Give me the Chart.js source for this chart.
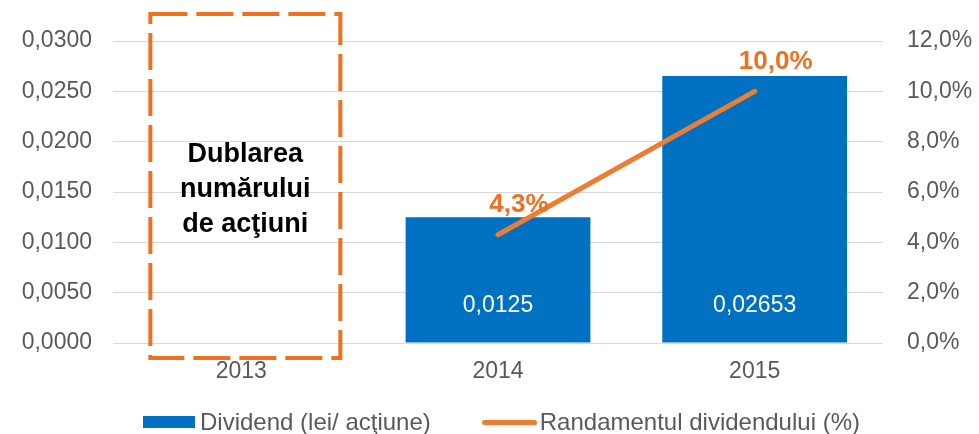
<!DOCTYPE html>
<html lang="ro">
<head>
<meta charset="UTF-8">
<title>Dividend</title>
<script src="https://cdn.jsdelivr.net/npm/chart.js"></script>
<style>
  body { margin: 0; background: #fff; font-family: "Liberation Sans", Arial, sans-serif; }
  .wrap { position: relative; width: 979px; height: 434px; }
  .legend { position: absolute; left: 143px; top: 407px; height: 30px; display: flex; align-items: center; font-size: 24px; color: #595959; }
  .legend .box { width: 52px; height: 12px; background: #0070C0; margin-right: 5px; }
  .legend .line { width: 55px; height: 5px; border-radius: 3px; background: #ED7D31; margin-left: 51px; margin-right: 3px; }
</style>
</head>
<body>
<div class="wrap">
  <canvas id="chart"></canvas>
  <div class="legend">
    <span class="box"></span><span>Dividend (lei/ acţiune)</span>
    <span class="line"></span><span>Randamentul dividendului (%)</span>
  </div>
</div>
<script>
const years = ['2013', '2014', '2015'];
const dividend = [null, 0.0125, 0.02653];   // lei / actiune
const yieldPct = [null, 4.3, 10.0];         // %
const noteLines = ['Dublarea', 'numărului', 'de acţiuni'];

const FONT = '"Liberation Sans", Arial, sans-serif';
const orange = '#ED7D31';
const comma = s => String(s).replace('.', ',');

// value labels + the dashed box over 2013
const overlay = {
  id: 'overlay',
  afterDatasetsDraw(chart) {
    const ctx = chart.ctx;
    const area = chart.chartArea;
    ctx.save();

    // bar labels, white, near the base
    chart.getDatasetMeta(0).data.forEach((bar, i) => {
      if (dividend[i] == null) return;
      ctx.font = '23px ' + FONT;
      ctx.fillStyle = '#fff';
      ctx.textAlign = 'center';
      ctx.textBaseline = 'middle';
      ctx.fillText(comma(dividend[i]), bar.x, area.bottom - 37);
    });

    // line labels, bold orange, above-right of the point
    chart.getDatasetMeta(1).data.forEach((pt, i) => {
      if (yieldPct[i] == null) return;
      ctx.font = 'bold 26px ' + FONT;
      ctx.fillStyle = '#EC7222';
      ctx.textAlign = 'center';
      ctx.textBaseline = 'middle';
      ctx.fillText(comma(yieldPct[i].toFixed(1)) + '%', pt.x + 21, pt.y - 30);
    });

    // dashed frame around 2013
    const cx = chart.scales.x.getPixelForValue(0) + 4;
    ctx.strokeStyle = '#ED7121';
    ctx.lineWidth = 4;
    ctx.setLineDash([37, 9]);
    ctx.strokeRect(cx - 95, area.top - 27, 190, area.bottom - area.top + 42);
    ctx.setLineDash([]);

    ctx.font = 'bold 27px ' + FONT;
    ctx.fillStyle = '#000';
    ctx.textAlign = 'center';
    ctx.textBaseline = 'middle';
    noteLines.forEach((t, k) => ctx.fillText(t, cx, area.top + 114 + k * 35));
    ctx.restore();
  }
};

new Chart(document.getElementById('chart'), {
  data: {
    labels: years,
    datasets: [
      {
        type: 'bar',
        label: 'Dividend (lei/ acţiune)',
        data: dividend,
        backgroundColor: '#0070C0',
        categoryPercentage: 1,
        barPercentage: 0.72,
        yAxisID: 'y',
        order: 2
      },
      {
        type: 'line',
        label: 'Randamentul dividendului (%)',
        data: yieldPct,
        borderColor: orange,
        borderWidth: 5,
        borderCapStyle: 'round',
        pointRadius: 0,
        yAxisID: 'y1',
        order: 1
      }
    ]
  },
  options: {
    responsive: true,
    maintainAspectRatio: false,
    animation: false,
    layout: { padding: { top: 41 } },
    plugins: { legend: { display: false }, tooltip: { enabled: false } },
    scales: {
      x: {
        grid: { display: false, drawTicks: false },
        border: { display: false },
        ticks: { color: '#595959', font: { family: FONT, size: 23 }, padding: 15 },
        afterFit: s => { s.height = 91; }
      },
      y: {
        position: 'left',
        min: 0,
        max: 0.03,
        grid: { color: '#D9D9D9', drawTicks: false },
        border: { display: false },
        ticks: {
          stepSize: 0.005,
          padding: 21,
          color: '#595959',
          font: { family: FONT, size: 23 },
          callback: v => comma(v.toFixed(4))
        },
        afterFit: s => { s.width = 113; }
      },
      y1: {
        position: 'right',
        min: 0,
        max: 12,
        grid: { display: false, drawTicks: false },
        border: { display: false },
        ticks: {
          stepSize: 2,
          padding: 24,
          color: '#595959',
          font: { family: FONT, size: 23 },
          callback: v => comma(v.toFixed(1)) + '%'
        },
        afterFit: s => { s.width = 96; }
      }
    }
  },
  plugins: [overlay]
});
</script>
</body>
</html>
